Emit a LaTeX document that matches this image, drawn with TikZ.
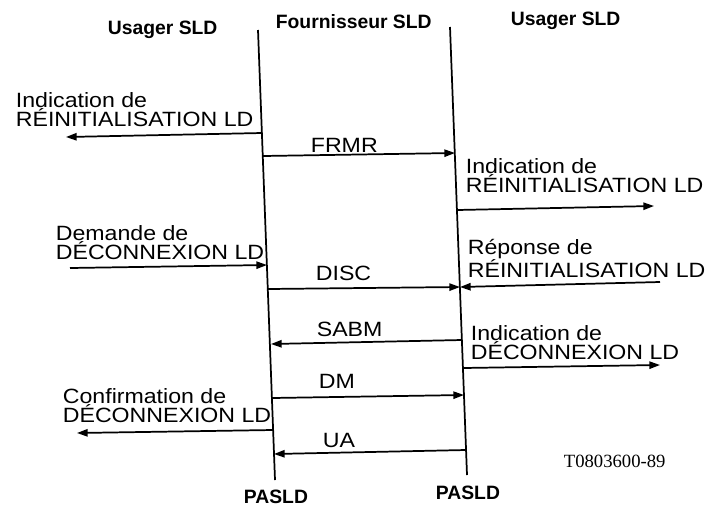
\documentclass[tikz,border=0pt]{standalone}
\usepackage{fontspec}
\setmainfont{Liberation Sans}
\newfontfamily\widesans{Liberation Sans}[FakeStretch=1.12]
\newfontfamily\refserif{Liberation Serif}
\usetikzlibrary{arrows.meta}

\begin{document}
\begin{tikzpicture}[x=0.75pt,y=-0.75pt,>={Triangle[length=8pt,width=5.5pt]},line width=1.3pt,
  every node/.style={inner sep=0pt},
  entity/.style={font=\fontsize{14.5}{17}\selectfont\bfseries,anchor=base west},
  prim/.style={font=\widesans\fontsize{15.5}{13}\selectfont,align=left,anchor=south west},
  msg/.style={font=\widesans\fontsize{15.5}{17}\selectfont,anchor=base west}]
\useasboundingbox (0,0) rectangle (710,508);
% entities and lifelines
\node[entity] (usagerA) at (107,34) {Usager SLD};
\node[entity] (fourn) at (275,28) {Fournisseur SLD};
\node[entity] (usagerB) at (510,25) {Usager SLD};
\coordinate (Ltop) at (258,30);
\coordinate (Lbot) at (275,480);
\coordinate (Rtop) at (450,27);
\coordinate (Rbot) at (467,475);
\draw (Ltop) -- (Lbot);
\draw (Rtop) -- (Rbot);
\node[entity] (paA) at (243,503) {PASLD};
\node[entity] (paB) at (435,499) {PASLD};
% primitives
\node[prim] (indA) at (15,128) {Indication de\\RÉINITIALISATION LD};
\node[prim] (indB) at (465,194) {Indication de\\RÉINITIALISATION LD};
\node[prim] (demA) at (55,261) {Demande de\\DÉCONNEXION LD};
\node[prim] (repB) at (467,279) {Réponse de\\RÉINITIALISATION LD};
\node[prim] (decB) at (470,361) {Indication de\\DÉCONNEXION LD};
\node[prim] (confA) at (62,424) {Confirmation de\\DÉCONNEXION LD};
% frames
\node[msg] (frmr) at (310,152) {FRMR};
\node[msg] (disc) at (315,280) {DISC};
\node[msg] (sabm) at (316,336) {SABM};
\node[msg] (dm) at (318,388) {DM};
\node[msg] (ua) at (322,447) {UA};
\node[font=\refserif\fontsize{14}{16}\selectfont,anchor=base west] (ref) at (563,467) {T0803600-89};
% end points
\coordinate (p1) at (262,133); \coordinate (q1) at (66,137);
\coordinate (p2) at (263,156); \coordinate (q2) at (455,153);
\coordinate (p3) at (457,210); \coordinate (q3) at (654,206);
\coordinate (p4) at (70,268);  \coordinate (q4) at (267,265);
\coordinate (p5) at (268,289); \coordinate (q5) at (460,287);
\coordinate (p6) at (660,282);
\coordinate (p7) at (462,340); \coordinate (q7) at (271,344);
\coordinate (p8) at (463,368); \coordinate (q8) at (660,365);
\coordinate (p9) at (272,398); \coordinate (q9) at (464,395);
\coordinate (p10) at (273,430); \coordinate (q10) at (77,433);
\coordinate (p11) at (466,450); \coordinate (q11) at (274,454);
\draw[->] (p1) -- (q1);
\draw[->] (p2) -- (q2);
\draw[->] (p3) -- (q3);
\draw[->] (p4) -- (q4);
\draw[->] (p5) -- (q5);
\draw[->] (p6) -- (q5);
\draw[->] (p7) -- (q7);
\draw[->] (p8) -- (q8);
\draw[->] (p9) -- (q9);
\draw[->] (p10) -- (q10);
\draw[->] (p11) -- (q11);
\end{tikzpicture}
\end{document}
